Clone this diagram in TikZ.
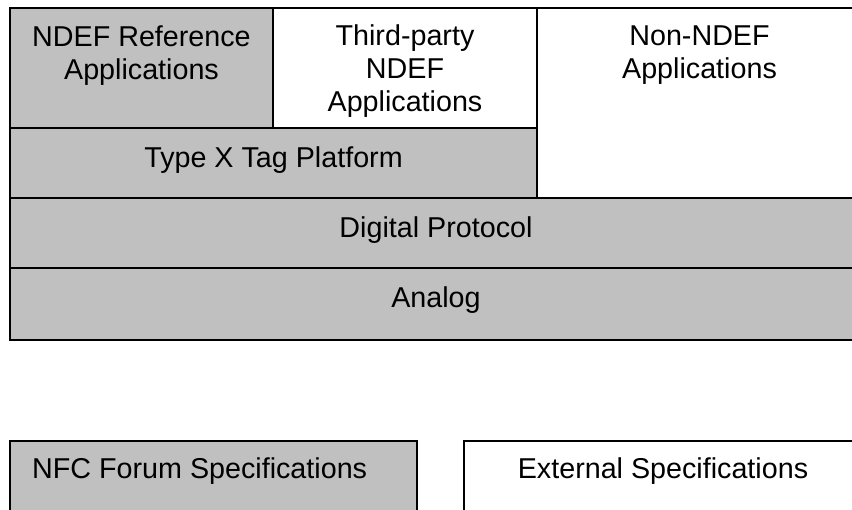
\documentclass[tikz,border=0pt]{standalone}
\usepackage{fontspec}
\setmainfont{Liberation Sans}
\usepackage{tikz}
\usetikzlibrary{positioning}

\definecolor{nfcgray}{RGB}{192,192,192}

\begin{document}
\begin{tikzpicture}
    [ x = 1pt, y = 1pt
    , block/.style =
      { draw, line width = 1.6pt, outer sep = 0pt, inner sep = 0pt }
    , nfc/.style =
      { block, fill = nfcgray }
    , ext/.style =
      { block, fill = white }
    , caption/.style =
      { inner sep = 0pt, align = center, font = {\fontsize{28.7pt}{33pt}\selectfont} }
    ]
    \useasboundingbox (0,0) rectangle (852,-510);

    \node [nfc, minimum width=263pt, minimum height=120pt, anchor=north west] (ndefref) at (10,-8) {};
    \node [ext, minimum width=264pt, minimum height=120pt] (thirdparty) [right=0pt of ndefref] {};
    \node [ext, minimum width=325pt, minimum height=190pt, anchor=north west] (nonndef) at (thirdparty.north east) {};
    \node [nfc, minimum width=527pt, minimum height=70pt] (typex) [below right=0pt and 0pt of ndefref.south west] {};
    \node [nfc, minimum width=852pt, minimum height=70pt] (digital) [below right=0pt and 0pt of typex.south west] {};
    \node [nfc, minimum width=852pt, minimum height=72pt] (analog) [below right=0pt and 0pt of digital.south west] {};
    \node [nfc, minimum width=407pt, minimum height=80pt] (nfcspec) [below right=101pt and 0pt of analog.south west] {};
    \node [ext, minimum width=398pt, minimum height=80pt] (extspec) [right=47pt of nfcspec] {};

    \node [caption] (ndefreftxt) [below=18pt of ndefref.north] {NDEF Reference\\Applications};
    \node [caption] (thirdpartytxt) [below=17pt of thirdparty.north] {Third-party\\NDEF\\Applications};
    \node [caption] (nonndeftxt) [below=18pt of nonndef.north] {Non-NDEF\\Applications};
    \node [caption] (typextxt) [below=19pt of typex.north] {Type X Tag Platform};
    \node [caption] (digitaltxt) [below=19pt of digital.north] {Digital Protocol};
    \node [caption] (analogtxt) [below=19pt of analog.north] {Analog};
    \node [caption] (nfcspectxt) [below right=17pt and 22pt of nfcspec.north west] {NFC Forum Specifications};
    \node [caption] (extspectxt) [below=17pt of extspec.north] {External Specifications};
\end{tikzpicture}
\end{document}
